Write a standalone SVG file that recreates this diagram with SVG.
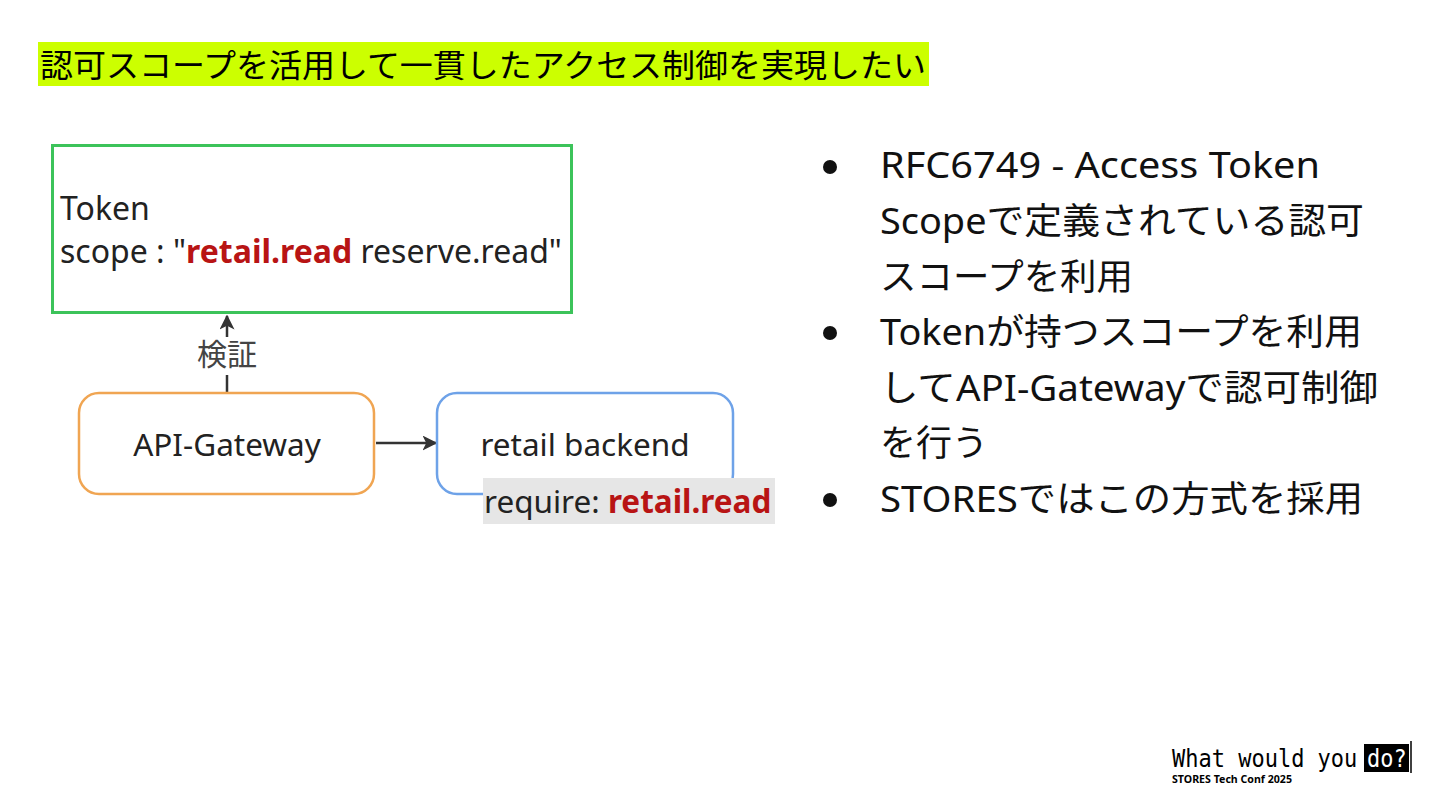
<svg xmlns="http://www.w3.org/2000/svg" width="1440" height="810" viewBox="0 0 1440 810">
<defs>
<style>
.t{font-family:"Noto Sans","Open Sans","Noto Sans CJK JP",sans-serif;fill:#222}
.r{font-weight:bold;fill:#b81414}
.b{font-family:"Noto Sans","Noto Sans CJK JP",sans-serif;font-size:36px;fill:#111}
.m{font-family:"DejaVu Sans Mono","Liberation Mono",monospace}
</style>
<marker id="ah" viewBox="0 0 10 10" refX="9" refY="5" markerWidth="6" markerHeight="6" orient="auto-start-reverse">
<path d="M0,0 L10,5 L0,10 L2.5,5 Z" fill="#333"/>
</marker>
</defs>
<rect width="1440" height="810" fill="#fff"/>
<g id="title">
<rect x="38" y="42" width="891" height="44" fill="#ccff00"/>
<text x="40" y="77" font-family="Noto Sans CJK JP,sans-serif" font-size="32" fill="#000" textLength="886" lengthAdjust="spacingAndGlyphs">認可スコープを活用して一貫したアクセス制御を実現したい</text>
</g>
<g id="connectors">
<line x1="227" y1="392" x2="227" y2="375" stroke="#333" stroke-width="2.5"/>
<line x1="227" y1="337" x2="227" y2="316" stroke="#333" stroke-width="2.5" marker-end="url(#ah)"/>
<text x="227" y="365" class="t" font-size="30" text-anchor="middle" style="fill:#444">検証</text>
<line x1="376" y1="443" x2="436" y2="443" stroke="#333" stroke-width="2.5" marker-end="url(#ah)"/>
</g>
<g id="token">
<rect x="52.5" y="145.5" width="519" height="167" fill="#fff" stroke="#3cc35a" stroke-width="3"/>
<text x="60" y="220" class="t" font-size="32">Token</text>
<text x="60" y="263" class="t" font-size="32">scope : "<tspan class="r">retail.read</tspan> reserve.read"</text>
</g>
<g id="gateway">
<rect x="79" y="393" width="295" height="101" rx="20" fill="#fff" stroke="#f0a552" stroke-width="2.5"/>
<text x="227" y="456" class="t" font-size="31.5" text-anchor="middle">API-Gateway</text>
</g>
<g id="backend">
<rect x="437" y="393" width="296" height="101" rx="20" fill="#fff" stroke="#6ea2e8" stroke-width="2.5"/>
<text x="585" y="456" class="t" font-size="31.5" text-anchor="middle">retail backend</text>
<rect x="483" y="478" width="292" height="46" fill="#e6e6e6"/>
<text x="484" y="513" class="t" font-size="31.5">require: <tspan class="r">retail.read</tspan></text>
</g>
<g id="bullets">
<circle cx="830" cy="167" r="7" fill="#111"/>
<circle cx="830" cy="333" r="7" fill="#111"/>
<circle cx="830" cy="500" r="7" fill="#111"/>
<text x="880" y="178" class="b" textLength="440" lengthAdjust="spacingAndGlyphs">RFC6749 - Access Token</text>
<text x="880" y="234" class="b" textLength="484" lengthAdjust="spacingAndGlyphs">Scopeで定義されている認可</text>
<text x="880" y="290" class="b" textLength="253" lengthAdjust="spacingAndGlyphs">スコープを利用</text>
<text x="880" y="345" class="b" textLength="482" lengthAdjust="spacingAndGlyphs">Tokenが持つスコープを利用</text>
<text x="880" y="401" class="b" textLength="498" lengthAdjust="spacingAndGlyphs">してAPI-Gatewayで認可制御</text>
<text x="880" y="456" class="b">を行う</text>
<text x="880" y="512" class="b" textLength="483" lengthAdjust="spacingAndGlyphs">STORESではこの方式を採用</text>
</g>
<g id="footer">
<rect x="1364" y="744" width="45" height="28" fill="#000"/>
<line x1="1411" y1="741" x2="1411" y2="773" stroke="#000" stroke-width="1.5"/>
<text transform="translate(1172,767) scale(1,1.12)" class="m" font-size="22" fill="#000">What would you</text>
<text transform="translate(1367,767) scale(1,1.12)" class="m" font-size="22" fill="#fff">do?</text>
<text x="1172" y="783" font-family="Noto Sans,sans-serif" font-size="10.5" font-weight="bold" fill="#000" textLength="120" lengthAdjust="spacingAndGlyphs">STORES Tech Conf 2025</text>
</g>
</svg>
